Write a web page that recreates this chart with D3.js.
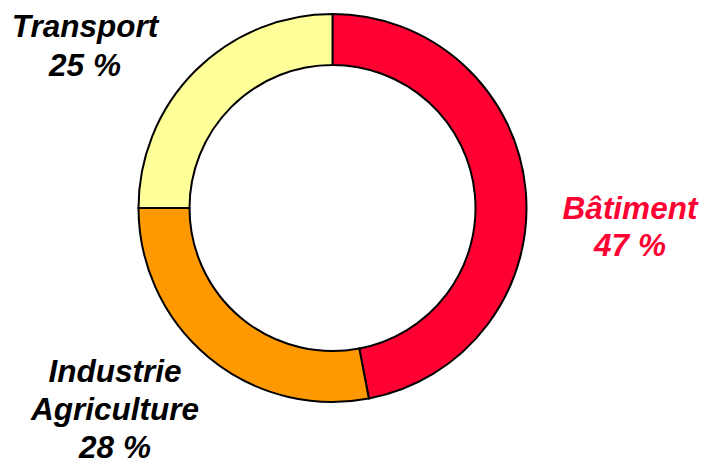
<!DOCTYPE html>
<html lang="fr">
<head>
    <meta charset="UTF-8">
    <title>Répartition</title>
    <script src="https://d3js.org/d3.v7.min.js"></script>
    <style>
        body { margin: 0; background: #fff; }
    </style>
</head>
<body>
<div id="chart"></div>
<script>
    // données
    const secteurs = ['Bâtiment', 'Industrie Agriculture', 'Transport'];
    const valeurs = [47, 28, 25];
    const couleurs = ['#FF0033', '#FF9900', '#FFFF99'];
    const etiquettes = [
        ['Bâtiment', '47 %'],
        ['Industrie', 'Agriculture', '28 %'],
        ['Transport', '25 %']
    ];
    const couleursTexte = ['#FF0033', '#000', '#000'];

    // mise en page
    const width = 704, height = 465,
        cx = 332.5, cy = 208, rOut = 194, rIn = 143;
    // position (centre x, baseline y de la première ligne, interligne)
    const posLib = [
        {x: 630, y: 219, dy: 37},
        {x: 115, y: 382, dy: 38},
        {x: 85, y: 37, dy: 39}
    ];

    const svg = d3.select('#chart').append('svg')
        .attr('width', width)
        .attr('height', height)
        .style('font', 'italic bold 31.5px "Liberation Sans", Arial, sans-serif');

    const pie = d3.pie().sort(null).value(d => d)(valeurs);
    const arc = d3.arc().innerRadius(rIn).outerRadius(rOut);

    svg.append('g')
        .attr('transform', `translate(${cx},${cy})`)
        .selectAll('path')
        .data(pie)
        .join('path')
        .attr('d', arc)
        .attr('fill', (d, i) => couleurs[i])
        .attr('stroke', '#000')
        .attr('stroke-width', 2);

    const lib = svg.selectAll('text.lib')
        .data(etiquettes)
        .join('text')
        .attr('class', 'lib')
        .attr('text-anchor', 'middle')
        .attr('fill', (d, i) => couleursTexte[i]);
    lib.each(function(d, i) {
        d3.select(this).selectAll('tspan')
            .data(d)
            .join('tspan')
            .attr('x', posLib[i].x)
            .attr('y', (t, j) => posLib[i].y + j * posLib[i].dy)
            .text(t => t);
    });
</script>
</body>
</html>
